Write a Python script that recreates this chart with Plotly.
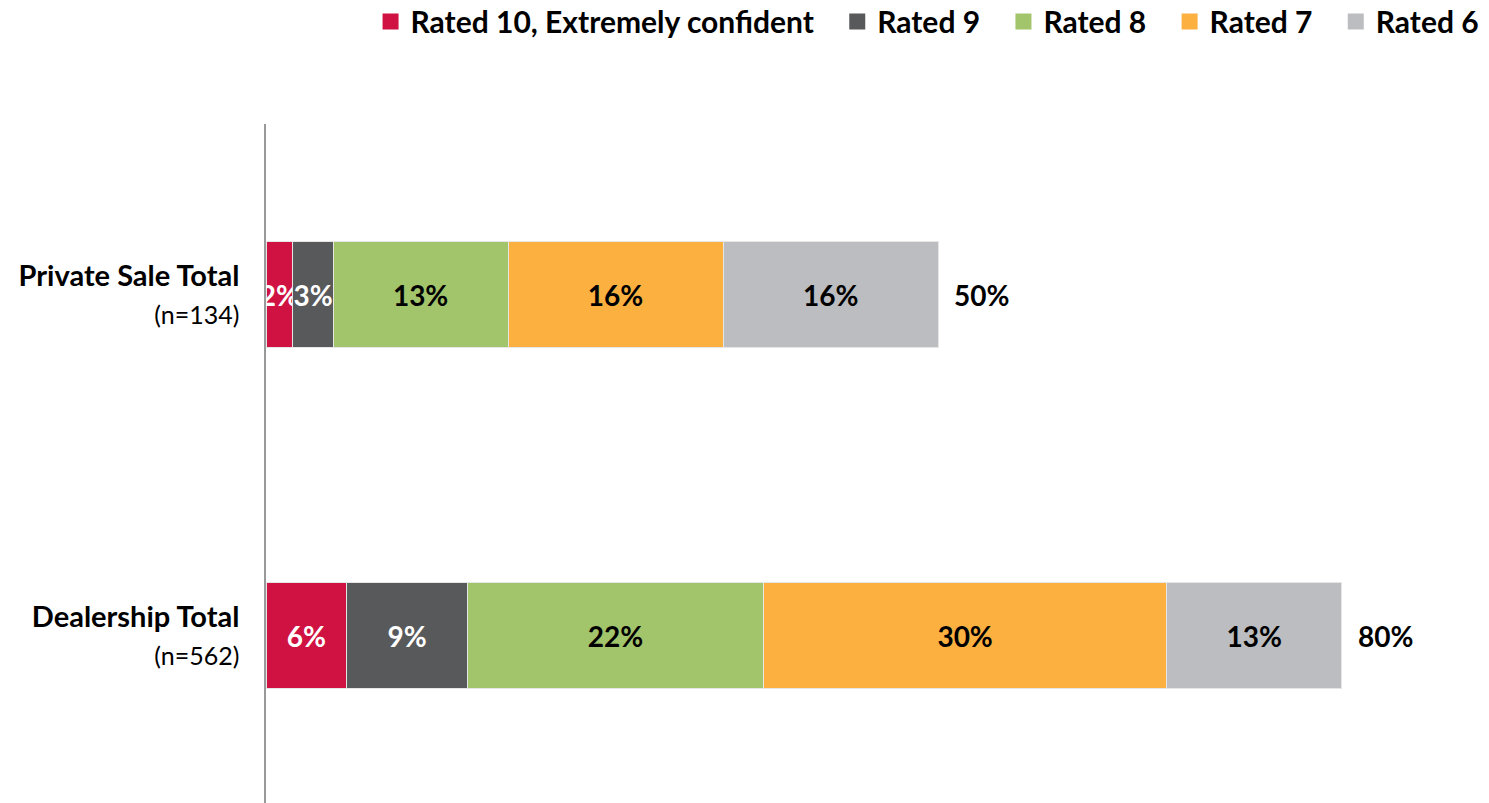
import plotly.graph_objects as go

# --- data ---
categories = ["Private Sale Total", "Dealership Total"]
sample_sizes = [134, 562]
series_names = ["Rated 10, Extremely confident", "Rated 9", "Rated 8", "Rated 7", "Rated 6"]
rated_10 = [2, 6]
rated_9 = [3, 9]
rated_8 = [13, 22]
rated_7 = [16, 30]
rated_6 = [16, 13]

# --- styles ---
colors = ["#D01242", "#58595B", "#A2C46B", "#FBB040", "#BCBDC0"]
text_colors = ["white", "white", "black", "black", "black"]
FONT = "Lato"

series_values = [rated_10, rated_9, rated_8, rated_7, rated_6]
totals = [sum(v) for v in zip(*series_values)]
tick_text = [f"<b>{c}</b><br><span style='font-size:25px;font-weight:normal'>(n={n})</span>"
             for c, n in zip(categories, sample_sizes)]

fig = go.Figure()
for name, vals, col, tcol in zip(series_names, series_values, colors, text_colors):
    fig.add_trace(
        go.Bar(
            y=categories,
            x=vals,
            name=name,
            orientation="h",
            width=0.31,
            showlegend=False,
            marker=dict(color=col, line=dict(color="#E6E6E6", width=1)),
            texttemplate="<b>%{x}%</b>",
            textposition="inside",
            insidetextanchor="middle",
            textangle=0,
            textfont=dict(family=FONT, size=28, color=tcol),
            constraintext="none",
            cliponaxis=False,
            hoverinfo="skip",
        )
    )

# legend-only entries with larger square swatches (padded for spacing)
pad = "\u00a0\u00a0\u2009"
for i, (name, col) in enumerate(zip(series_names, colors)):
    label = name if i == len(series_names) - 1 else name + pad
    fig.add_trace(
        go.Scatter(
            x=[None], y=[None], mode="markers", name=label,
            marker=dict(symbol="square", size=24, color=col),
            hoverinfo="skip",
        )
    )

# totals at end of bars
for cat, tot in zip(categories, totals):
    fig.add_annotation(
        x=tot, y=cat, text=f"<b>{tot}%</b>", showarrow=False,
        xanchor="left", xshift=14,
        font=dict(family=FONT, size=28, color="black"),
    )

fig.update_layout(
    width=1481,
    height=795,
    barmode="stack",
    plot_bgcolor="white",
    paper_bgcolor="white",
    margin=dict(l=258, r=13, t=116, b=0),
    font=dict(family=FONT, color="black"),
    uniformtext=dict(minsize=28, mode="show"),
    legend=dict(
        orientation="h",
        x=0.997, xanchor="right", xref="container",
        y=0.983, yanchor="middle", yref="container",
        font=dict(family=FONT, size=30, color="black", weight="bold"),
        traceorder="normal",
        itemsizing="trace",
        itemwidth=30,
    ),
    xaxis=dict(range=[0, 90], visible=False, fixedrange=True),
    yaxis=dict(
        range=[1.49, -0.5],
        tickmode="array",
        tickvals=categories,
        ticktext=tick_text,
        tickfont=dict(family=FONT, size=29, color="black"),
        ticks="outside", ticklen=19, tickcolor="white",
        showline=True, linecolor="#999999", linewidth=1.5,
        showgrid=False,
    ),
)

fig.write_html("out.html")
